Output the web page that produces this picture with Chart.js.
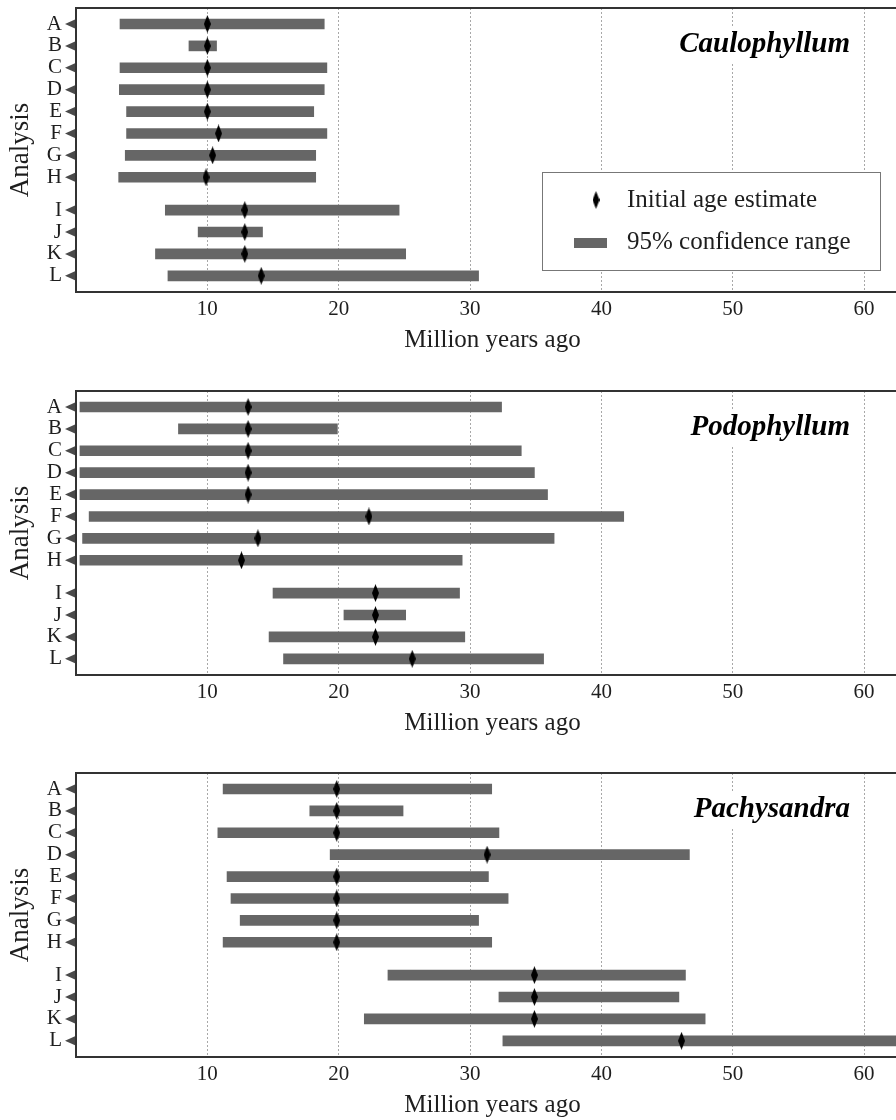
<!DOCTYPE html>
<html>
<head>
<meta charset="utf-8">
<script src="https://cdn.jsdelivr.net/npm/chart.js@4.4.1/dist/chart.umd.min.js"></script>
<style>
    html, body { margin: 0; padding: 0; background: #fff; width: 896px; height: 1120px; overflow: hidden; }
    .panel { position: absolute; left: 0; width: 909px; height: 362px; }
</style>
</head>
<body>
<div class="panel" style="top:0px"><canvas id="c1" width="909" height="362"></canvas></div>
<div class="panel" style="top:383px"><canvas id="c2" width="909" height="362"></canvas></div>
<div class="panel" style="top:765px"><canvas id="c3" width="909" height="362"></canvas></div>
<script>
// rows of the analysis axis; I-L sit a little apart from A-H
const analyses = ['A', 'B', 'C', 'D', 'E', 'F', 'G', 'H', 'I', 'J', 'K', 'L'];
const rowPos = [1, 2, 3, 4, 5, 6, 7, 8, 9.5, 10.5, 11.5, 12.5];
const xTicks = [10, 20, 30, 40, 50, 60];

// Caulophyllum
const caulLow  = [3.35, 8.6, 3.35, 3.3, 3.85, 3.85, 3.75, 3.25, 6.8, 9.3, 6.05, 7.0];
const caulHigh = [18.9, 10.7, 19.1, 18.9, 18.1, 19.1, 18.25, 18.25, 24.6, 14.2, 25.1, 30.65];
const caulEst  = [10.0, 10.0, 10.0, 10.0, 10.0, 10.85, 10.4, 9.9, 12.85, 12.85, 12.85, 14.1];

// Podophyllum
const podoLow  = [0.3, 7.8, 0.3, 0.3, 0.3, 1.0, 0.5, 0.3, 15.0, 20.4, 14.7, 15.8];
const podoHigh = [32.4, 19.9, 33.9, 34.9, 35.9, 41.7, 36.4, 29.4, 29.2, 25.1, 29.6, 35.6];
const podoEst  = [13.1, 13.1, 13.1, 13.1, 13.1, 22.3, 13.85, 12.6, 22.8, 22.8, 22.8, 25.6];

// Pachysandra
const pachLow  = [11.2, 17.8, 10.8, 19.35, 11.5, 11.8, 12.5, 11.2, 23.75, 32.2, 21.95, 32.5];
const pachHigh = [31.65, 24.9, 32.2, 46.7, 31.4, 32.9, 30.65, 31.65, 46.4, 45.9, 47.9, 64];
const pachEst  = [19.85, 19.85, 19.85, 31.3, 19.85, 19.85, 19.85, 19.85, 34.9, 34.9, 34.9, 46.1];

const panels = [
    { id: 'c1', name: 'Caulophyllum', low: caulLow, high: caulHigh, est: caulEst, legend: true },
    { id: 'c2', name: 'Podophyllum', low: podoLow, high: podoHigh, est: podoEst, legend: false },
    { id: 'c3', name: 'Pachysandra', low: pachLow, high: pachHigh, est: pachEst, legend: false }
];

const SERIF = "'Liberation Serif', 'Times New Roman', serif";
const BAR_COLOR = '#666';
const TEXT_COLOR = '#1e1e1e';

// tall narrow diamond used as the point marker
function makeDiamond(w, h) {
    const c = document.createElement('canvas');
    c.width = w; c.height = h;
    const g = c.getContext('2d');
    g.fillStyle = '#000';
    g.beginPath();
    g.moveTo(w / 2, 0);
    g.lineTo(w, h / 2);
    g.lineTo(w / 2, h);
    g.lineTo(0, h / 2);
    g.closePath();
    g.fill();
    return c;
}
const diamond = makeDiamond(7, 18);

const decorPlugin = {
    id: 'decor',
    beforeDatasetsDraw(chart, args, opts) {
        const ctx = chart.ctx;
        const area = chart.chartArea;
        ctx.save();
        // panel title on a white patch
        ctx.font = 'bold italic 29px ' + SERIF;
        const w = ctx.measureText(opts.name).width;
        const cy = area.top + 37;
        ctx.fillStyle = '#fff';
        ctx.fillRect(850 - w - 8, cy - 18, w + 16, 36);
        ctx.fillStyle = '#000';
        ctx.textAlign = 'right';
        ctx.textBaseline = 'middle';
        ctx.fillText(opts.name, 850, cy);

        if (opts.legend) {
            const bx = 542, by = area.top + 164, bw = 338, bh = 98;
            ctx.fillStyle = '#fff';
            ctx.fillRect(bx, by, bw, bh);
            ctx.strokeStyle = '#777';
            ctx.lineWidth = 1;
            ctx.strokeRect(bx + 0.5, by + 0.5, bw, bh);
            ctx.drawImage(diamond, 596 - diamond.width / 2, by + 28 - diamond.height / 2);
            ctx.fillStyle = BAR_COLOR;
            ctx.fillRect(574, by + 66, 33, 10);
            ctx.fillStyle = TEXT_COLOR;
            ctx.font = '25px ' + SERIF;
            ctx.textAlign = 'left';
            ctx.fillText('Initial age estimate', 627, by + 28);
            ctx.fillText('95% confidence range', 627, by + 70);
        }
        ctx.restore();
    },
    afterDraw(chart) {
        const ctx = chart.ctx;
        const area = chart.chartArea;
        const yScale = chart.scales.y;
        ctx.save();
        // frame: top, left, bottom (right side runs off the page)
        ctx.strokeStyle = '#333';
        ctx.lineWidth = 2;
        ctx.beginPath();
        ctx.moveTo(chart.width, area.top);
        ctx.lineTo(area.left, area.top);
        ctx.lineTo(area.left, area.bottom);
        ctx.lineTo(chart.width, area.bottom);
        ctx.stroke();
        // small left-pointing triangles as tick marks
        ctx.fillStyle = '#4a4a4a';
        rowPos.forEach(v => {
            const y = yScale.getPixelForValue(v);
            ctx.beginPath();
            ctx.moveTo(area.left - 1, y - 4.5);
            ctx.lineTo(area.left - 1, y + 4.5);
            ctx.lineTo(area.left - 11, y);
            ctx.closePath();
            ctx.fill();
        });
        ctx.restore();
    }
};

panels.forEach(p => {
    const ctx = document.getElementById(p.id).getContext('2d');
    new Chart(ctx, {
        type: 'bar',
        data: {
            datasets: [
                {
                    type: 'scatter',
                    label: 'Initial age estimate',
                    data: rowPos.map((y, i) => ({ x: p.est[i], y: y })),
                    pointStyle: diamond,
                    pointRadius: 9,
                    order: 1
                },
                {
                    type: 'bar',
                    label: '95% confidence range',
                    data: rowPos.map((y, i) => ({ x: [p.low[i], p.high[i]], y: y })),
                    backgroundColor: BAR_COLOR,
                    borderWidth: 0,
                    barThickness: 10,
                    order: 2
                }
            ]
        },
        options: {
            indexAxis: 'y',
            responsive: false,
            animation: false,
            layout: { autoPadding: false, padding: { top: 8, left: 0, right: 0, bottom: 0 } },
            plugins: {
                legend: { display: false },
                tooltip: { enabled: false },
                decor: { name: p.name, legend: p.legend }
            },
            scales: {
                x: {
                    type: 'linear',
                    position: 'bottom',
                    min: 0,
                    max: 63.42,
                    offset: false,
                    afterBuildTicks: scale => { scale.ticks = xTicks.map(v => ({ value: v })); },
                    afterFit: scale => { scale.height = 70; scale.paddingLeft = 0; scale.paddingRight = 0; },
                    grid: { color: '#a8a8a8', lineWidth: 1, drawTicks: false, offset: false },
                    border: { display: false, dash: [2, 2] },
                    ticks: {
                        autoSkip: false,
                        maxRotation: 0,
                        padding: 5,
                        color: TEXT_COLOR,
                        font: { family: SERIF, size: 21 }
                    },
                    title: {
                        display: true,
                        text: 'Million years ago',
                        color: TEXT_COLOR,
                        font: { family: SERIF, size: 25 },
                        padding: { top: 0, bottom: 7 }
                    }
                },
                y: {
                    type: 'linear',
                    position: 'left',
                    reverse: true,
                    min: 0.27,
                    max: 13.24,
                    offset: false,
                    afterBuildTicks: scale => { scale.ticks = rowPos.map(v => ({ value: v })); },
                    afterFit: scale => { scale.width = 76; scale.paddingTop = 0; scale.paddingBottom = 0; },
                    grid: { display: false, drawTicks: false, offset: false },
                    border: { display: false },
                    ticks: {
                        autoSkip: false,
                        padding: 14,
                        color: TEXT_COLOR,
                        font: { family: SERIF, size: 21 },
                        callback: (value, i) => analyses[i]
                    },
                    title: {
                        display: true,
                        text: 'Analysis',
                        color: TEXT_COLOR,
                        font: { family: SERIF, size: 27 },
                        padding: { top: 5, bottom: 0 }
                    }
                }
            }
        },
        plugins: [decorPlugin]
    });
});
</script>
</body>
</html>
